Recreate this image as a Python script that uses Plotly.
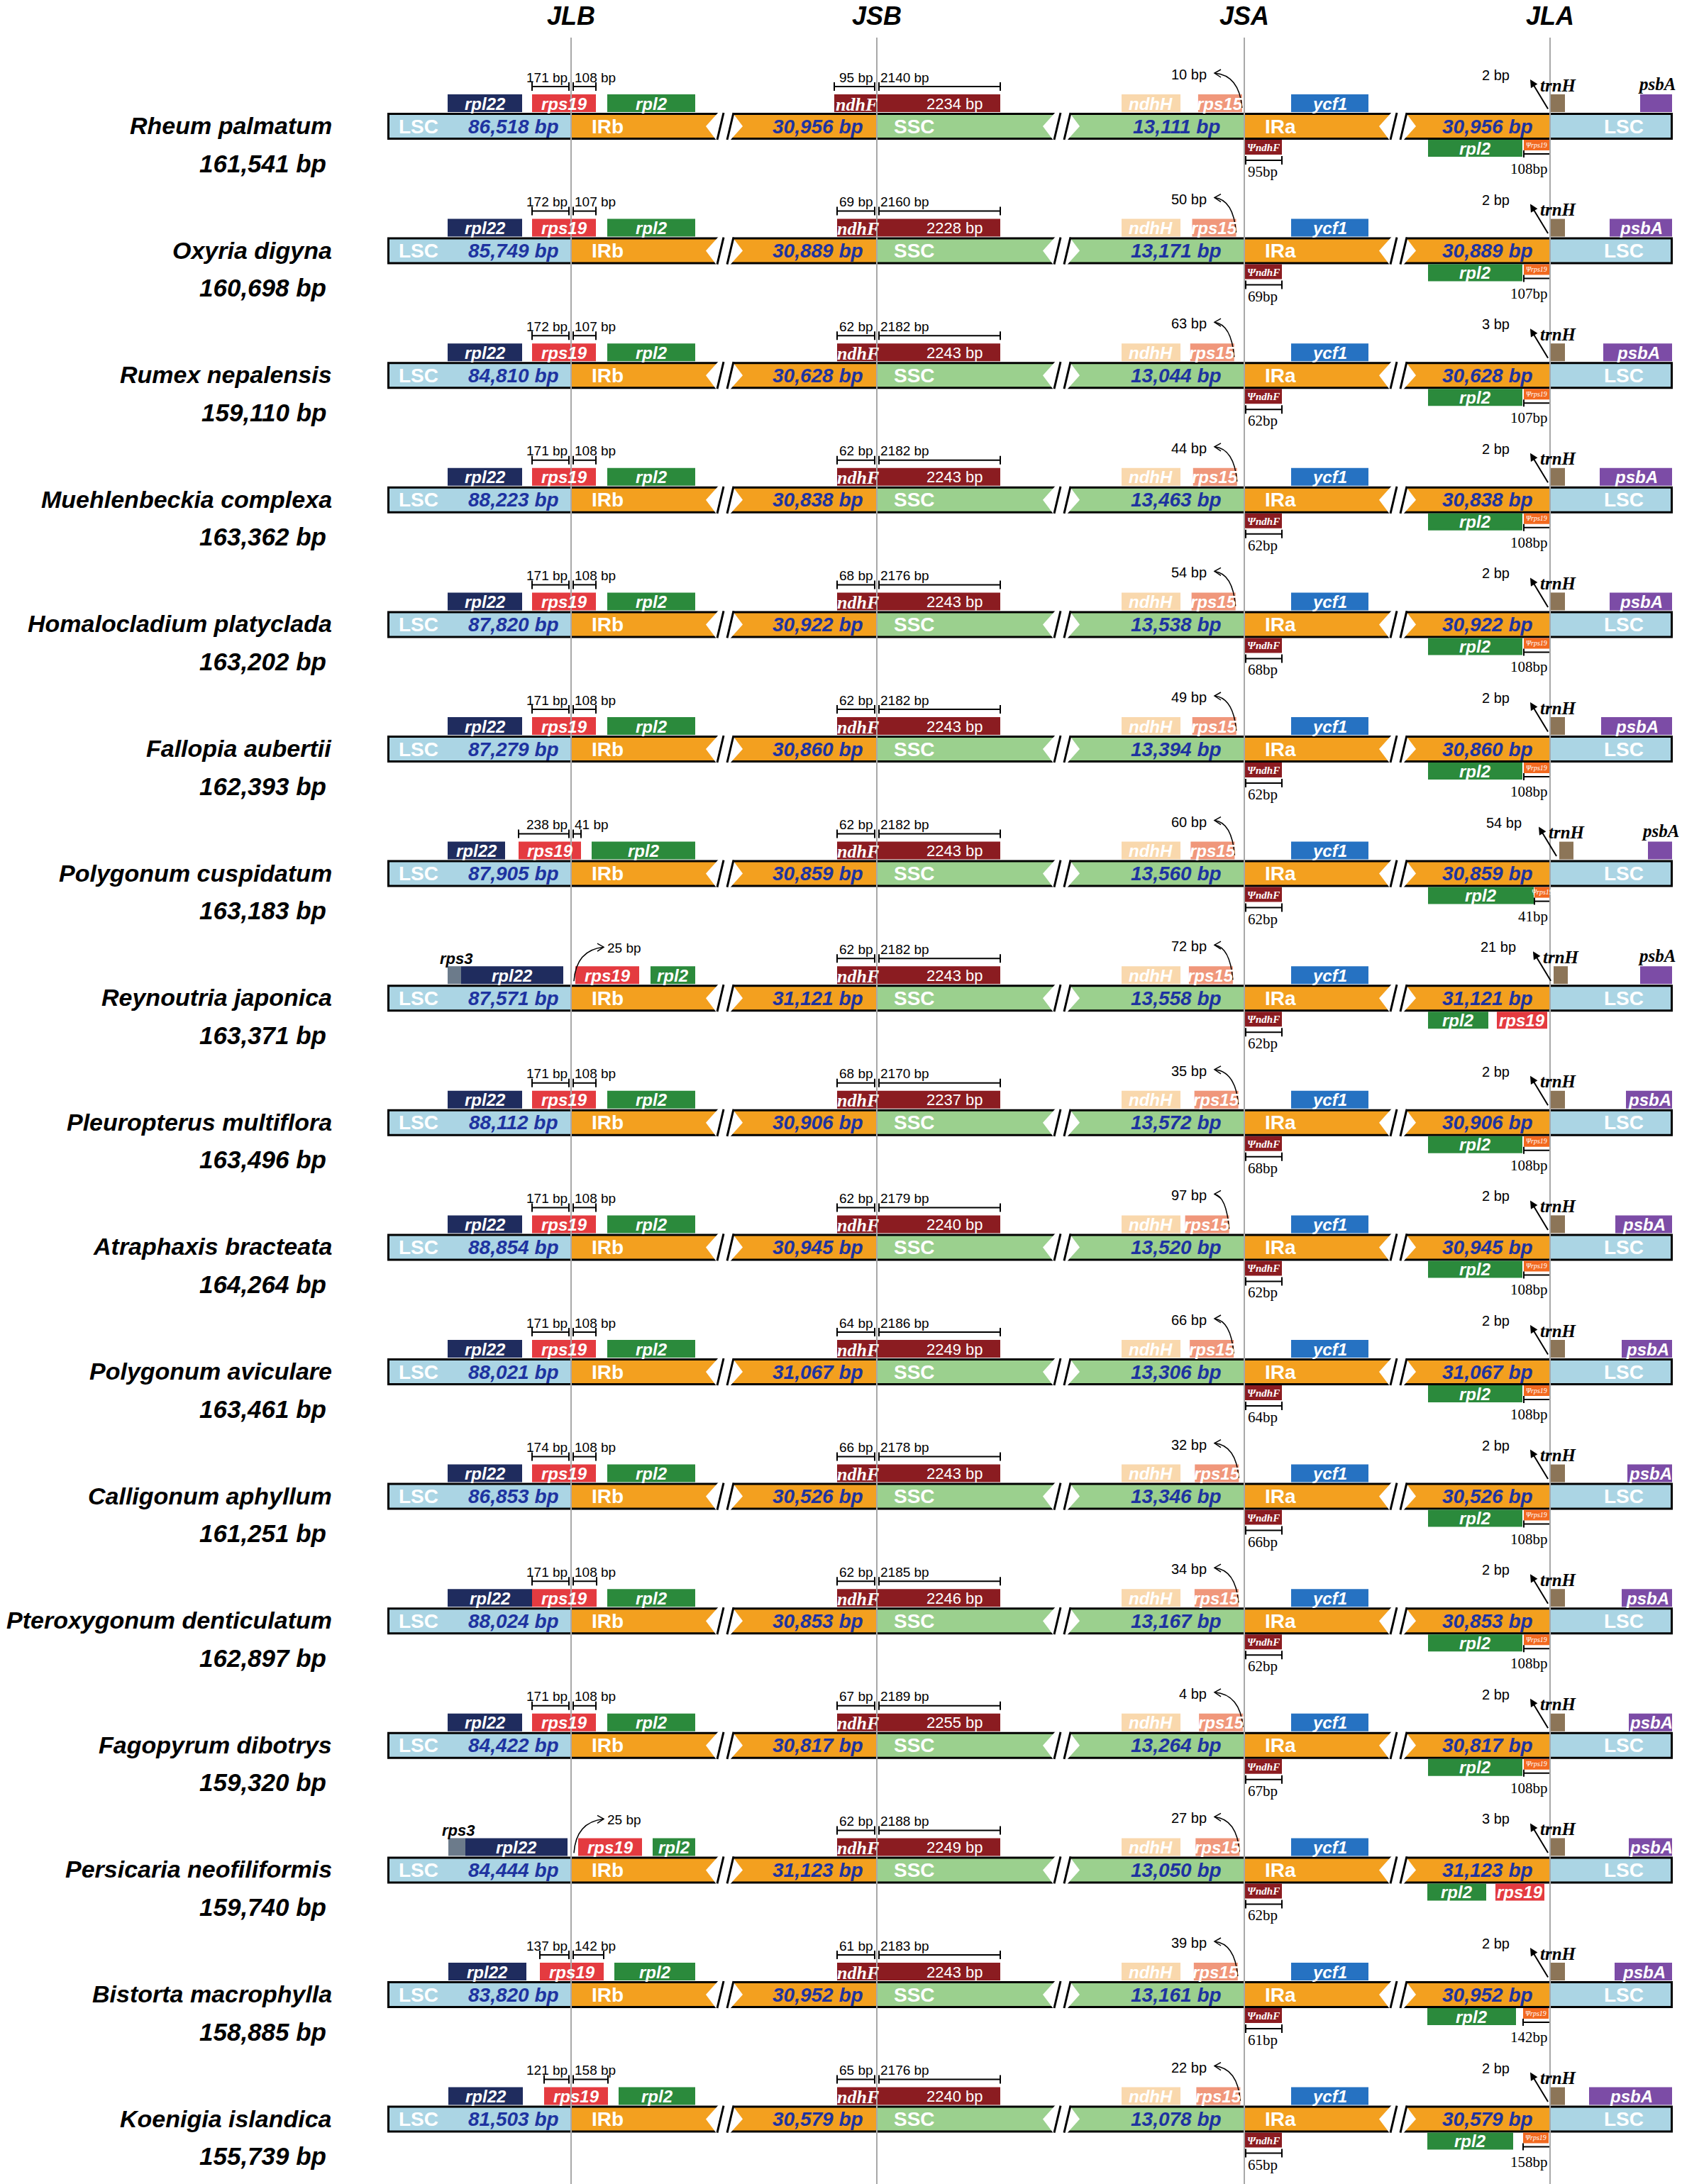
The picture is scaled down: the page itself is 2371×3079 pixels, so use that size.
import plotly.graph_objects as go

W, H = 2371, 3079

### data ###

species = ["Rheum palmatum", "Oxyria digyna", "Rumex nepalensis", "Muehlenbeckia complexa",
           "Homalocladium platyclada", "Fallopia aubertii", "Polygonum cuspidatum", "Reynoutria japonica",
           "Pleuropterus multiflora", "Atraphaxis bracteata", "Polygonum aviculare", "Calligonum aphyllum",
           "Pteroxygonum denticulatum", "Fagopyrum dibotrys", "Persicaria neofiliformis",
           "Bistorta macrophylla", "Koenigia islandica"]
genome_bp = [161541, 160698, 159110, 163362, 163202, 162393, 163183, 163371, 163496,
             164264, 163461, 161251, 162897, 159320, 159740, 158885, 155739]
lsc_bp = [86518, 85749, 84810, 88223, 87820, 87279, 87905, 87571, 88112,
          88854, 88021, 86853, 88024, 84422, 84444, 83820, 81503]
ir_bp = [30956, 30889, 30628, 30838, 30922, 30860, 30859, 31121, 30906,
         30945, 31067, 30526, 30853, 30817, 31123, 30952, 30579]
ssc_bp = [13111, 13171, 13044, 13463, 13538, 13394, 13560, 13558, 13572,
          13520, 13306, 13346, 13167, 13264, 13050, 13161, 13078]

# rps19 split at JLB (LSC side / IRb side), or gap to rps19 when it sits fully in IRb / LSC
jlb_lsc_bp = [171, 172, 172, 171, 171, 171, 238, None, 171, 171, 171, 174, 171, 171, None, 137, 121]
jlb_ir_bp = [108, 107, 107, 108, 108, 108, 41, None, 108, 108, 108, 108, 108, 108, None, 142, 158]
jlb_gap_bp = [None, None, None, None, None, None, None, 25, None, None, None, None, None, None, 25, None, None]

# ndhF at JSB
jsb_ir_bp = [95, 69, 62, 62, 68, 62, 62, 62, 68, 62, 64, 66, 62, 67, 62, 61, 65]
jsb_ssc_bp = [2140, 2160, 2182, 2182, 2176, 2182, 2182, 2182, 2170, 2179, 2186, 2178, 2185, 2189, 2188, 2183, 2176]
ndhf_bp = [2234, 2228, 2243, 2243, 2243, 2243, 2243, 2243, 2237, 2240, 2249, 2243, 2246, 2255, 2249, 2243, 2240]

# rps15 to JSA, trnH to JLA
jsa_bp = [10, 50, 63, 44, 54, 49, 60, 72, 35, 97, 66, 32, 34, 4, 27, 39, 22]
jla_bp = [2, 2, 3, 2, 2, 2, 54, 21, 2, 2, 2, 2, 2, 2, 3, 2, 2]

headers = ["JLB", "JSB", "JSA", "JLA"]

### layout (pixels) ###

ROW0, PITCH = 178, 175.6
BAR_L, BAR_R = 546, 2358
JLB, JSB, JSA, JLA = 805, 1236, 1754, 2185
BREAKS = [1021, 1496, 1970]

SANS = "Liberation Sans, Arial, sans-serif"
SERIF = "Liberation Serif, Times New Roman, serif"

col = dict(lsc="#abd5e4", ir="#f3a01f", ssc="#9bd08e", rpl22="#1f2c5e", rps19="#e43b40",
           rpl2="#2b8a3c", ndhF="#8b1c21", ndhH="#f9d8ad", rps15="#f0977b", ycf1="#2672c2",
           trnH="#8c7558", psbA="#7c4ca6", psi="#f2691f", rps3="#6c7b8b", size="#1e33a0",
           vline="#a8a8a8")

# genes around JLB: (name, x0, x1)
jlb_default = [("rpl22", 631, 736), ("rps19", 750, 840), ("rpl2", 856, 980)]
jlb_genes = {
    6: [("rpl22", 631, 712), ("rps19", 731, 819), ("rpl2", 834, 980)],
    7: [("rps3", 631, 650), ("rpl22", 650, 794), ("rps19", 811, 901), ("rpl2", 917, 980)],
    12: [("rpl22", 631, 750), ("rps19", 750, 841), ("rpl2", 856, 980)],
    14: [("rps3", 632, 656), ("rpl22", 656, 800), ("rps19", 815, 905), ("rpl2", 920, 980)],
    15: [("rpl22", 632, 742), ("rps19", 761, 851), ("rpl2", 866, 980)],
    16: [("rpl22", 632, 737), ("rps19", 767, 857), ("rpl2", 872, 980)],
}
# genes below IRa near JLA
jla_default = [("rpl2", 2013, 2146), ("psi", 2148, 2184)]
jla_genes = {
    6: [("rpl2", 2013, 2162), ("psi", 2163, 2184)],
    7: [("rpl2", 2013, 2098), ("rps19", 2110, 2181)],
    14: [("rpl2", 2012, 2095), ("rps19", 2108, 2177)],
    15: [("rpl2", 2012, 2137), ("psi", 2147, 2183)],
    16: [("rpl2", 2012, 2133), ("psi", 2147, 2183)],
}
psba_x0 = [2312, 2269, 2260, 2255, 2269, 2257, 2323, 2312, 2292, 2277, 2286, 2294, 2286, 2296, 2296, 2276, 2240]
trnh_x0 = {6: 2198, 7: 2190}
ndhf_x0 = {0: 1176}

shapes, notes = [], []


def box(x0, x1, y0, y1, color):
    shapes.append(dict(type="rect", xref="x", yref="y", x0=x0, x1=x1, y0=y0, y1=y1,
                       fillcolor=color, line=dict(width=0)))


def seg(x0, y0, x1, y1, color="black", w=2):
    shapes.append(dict(type="line", xref="x", yref="y", x0=x0, y0=y0, x1=x1, y1=y1,
                       line=dict(color=color, width=w)))


def path(d, color="black", w=2, fill="rgba(0,0,0,0)"):
    shapes.append(dict(type="path", xref="x", yref="y", path=d, fillcolor=fill,
                       line=dict(color=color, width=w)))


def label(x, y, txt, size, color="black", font=SANS, anchor="center"):
    notes.append(dict(x=x, y=y, xref="x", yref="y", text=txt, showarrow=False,
                      xanchor=anchor, yanchor="middle",
                      font=dict(family=font, size=size, color=color)))


def bi(t):
    return "<b><i>" + t + "</i></b>"


def bracket(x0, x1, y, h=6):
    seg(x0, y, x1, y, w=2)
    seg(x0, y - h, x0, y + h, w=2)
    seg(x1, y - h, x1, y + h, w=2)


def brk(xc, c):
    t, b = c - 20, c + 20
    path(f"M {xc-26},{c} L {xc-8},{t} L {xc+11},{t} L {xc+26},{c} L {xc+8},{b} L {xc-11},{b} Z",
         w=0, fill="white")
    seg(xc - 1, t + 1, xc - 10, b - 1, w=3)
    seg(xc + 13, t + 1, xc + 4, b - 1, w=3)


for i, name in enumerate(species):
    c = ROW0 + i * PITCH
    top, bot = c - 19, c + 19
    gt, gb = c - 45, c - 20     # gene boxes above the bar
    ut = c + 19                 # gene boxes below the bar

    # main bar with black frame
    box(BAR_L, BAR_R, top, bot, "black")
    it, ib = top + 3, bot - 3
    box(BAR_L + 3, JLB, it, ib, col["lsc"])
    box(JLB, JSB, it, ib, col["ir"])
    box(JSB, JSA, it, ib, col["ssc"])
    box(JSA, JLA, it, ib, col["ir"])
    box(JLA, BAR_R - 3, it, ib, col["lsc"])
    for xc in BREAKS:
        brk(xc, c)

    label(590, c, "<b>LSC</b>", 28, "white")
    label(724, c, bi(f"{lsc_bp[i]:,} bp"), 28, col["size"])
    label(856, c, "<b>IRb</b>", 28, "white")
    label(1153, c, bi(f"{ir_bp[i]:,} bp"), 28, col["size"])
    label(1289, c, "<b>SSC</b>", 28, "white")
    label(1658, c, bi(f"{ssc_bp[i]:,} bp"), 28, col["size"])
    label(1805, c, "<b>IRa</b>", 28, "white")
    label(2097, c, bi(f"{ir_bp[i]:,} bp"), 28, col["size"])
    label(2289, c, "<b>LSC</b>", 28, "white")

    # species name and genome size
    label(470, c - 1, bi(name), 34, anchor="right")
    label(462, c + 52, bi(f"{genome_bp[i]:,} bp"), 35, anchor="right")

    # JLB genes
    genes = jlb_genes.get(i, jlb_default)
    for g, x0, x1 in genes:
        box(x0, x1, gt, gb, col[g])
        if g == "rps3":
            label((x0 + x1) / 2 + 2, c - 56, bi("rps3"), 22)
        else:
            label((x0 + x1) / 2, c - 32, bi(g), 24, "white")
    r19 = [g for g in genes if g[0] == "rps19"][0]
    if jlb_lsc_bp[i] is not None:
        bracket(r19[1], JLB - 3, c - 56)
        bracket(JLB + 3, r19[2], c - 56)
        label(JLB - 3, c - 69, f"{jlb_lsc_bp[i]} bp", 19, anchor="right")
        label(JLB + 3, c - 69, f"{jlb_ir_bp[i]} bp", 19, anchor="left")
    elif r19[1] > JLB:
        # rps19 starts inside IRb, arrow to the right
        path(f"M {JLB+4},{c-24} Q {JLB+7},{c-68} {JLB+46},{c-72}", w=1.5)
        path(f"M {JLB+37},{c-77} L {JLB+46},{c-72} L {JLB+37},{c-66}", w=1.5)
        label(JLB + 49, c - 71, f"{jlb_gap_bp[i]} bp", 19, anchor="left")
    else:
        # rpl22 ends in LSC, arrow to the left
        path(f"M {JLB-3},{c-22} Q {JLB-8},{c-68} {JLB-45},{c-72}", w=1.5)
        path(f"M {JLB-36},{c-77} L {JLB-45},{c-72} L {JLB-36},{c-66}", w=1.5)
        label(JLB - 48, c - 71, f"{jlb_gap_bp[i]} bp", 19, anchor="right")

    # ndhF across JSB
    nx0 = ndhf_x0.get(i, 1180)
    box(nx0, 1410, gt, gb, col["ndhF"])
    label((nx0 + JSB) / 2 + 1, c - 31, bi("ndhF"), 26, "white", SERIF)
    label(1346, c - 32, f"{ndhf_bp[i]} bp", 22, "white")
    bracket(nx0, JSB - 3, c - 56)
    bracket(JSB + 3, 1410, c - 56)
    label(JSB - 3, c - 69, f"{jsb_ir_bp[i]} bp", 19, anchor="right")
    label(JSB + 3, c - 69, f"{jsb_ssc_bp[i]} bp", 19, anchor="left")

    # SSC genes near JSA
    box(1581, 1664, gt, gb, col["ndhH"])
    label(1622, c - 32, bi("ndhH"), 24, "white")
    rx1 = JSA - 1 - 0.21 * jsa_bp[i]
    box(rx1 - 62, rx1, gt, gb, col["rps15"])
    label(rx1 - 31, c - 32, bi("rps15"), 24, "white")
    path(f"M {rx1},{c-26} Q {rx1-4},{c-72} 1712,{c-75}", w=1.5)
    path(f"M 1721,{c-80} L 1712,{c-75} L 1721,{c-69}", w=1.5)
    label(1703, c - 73, f"{jsa_bp[i]} bp", 20, anchor="right")

    box(1820, 1929, gt, gb, col["ycf1"])
    label(1874, c - 32, bi("ycf1"), 24, "white")

    # pseudo ndhF below IRa
    box(JSA + 1, 1807, ut, c + 40, col["ndhF"])
    label(1781, c + 30, bi("ΨndhF"), 15, "white", SERIF)
    bracket(JSA + 2, 1807, c + 48)
    label(1757, c + 64, f"{jsb_ir_bp[i]}bp", 21, font=SERIF, anchor="left")

    # genes below IRa near JLA
    for g, x0, x1 in jla_genes.get(i, jla_default):
        if g == "psi":
            box(x0, x1, ut, c + 34, col["psi"])
            label((x0 + x1) / 2, c + 26, "<i>Ψrps19</i>", 10, "white", SERIF)
            bracket(x0, JLA, c + 39, 5)
            label(JLA - 1, c + 60, f"{jlb_ir_bp[i]}bp", 21, font=SERIF, anchor="right")
        else:
            box(x0, x1, ut, c + 43, col[g])
            label((x0 + x1) / 2, c + 31, bi(g), 24, "white")

    # trnH and psbA in LSC
    tx0 = trnh_x0.get(i, 2186)
    box(tx0, tx0 + 20, gt, gb, col["trnH"])
    label(tx0 + 11, c - 58, bi("trnH"), 25, font=SERIF)
    notes.append(dict(x=tx0 - 29, y=c - 66, ax=tx0 - 3, ay=c - 23, xref="x", yref="y",
                      axref="x", ayref="y", text="", showarrow=True, arrowhead=2,
                      arrowsize=1.1, arrowwidth=2, arrowcolor="black"))
    label(tx0 - 78, c - 72, f"{jla_bp[i]} bp", 20)

    px0 = psba_x0[i]
    box(px0, BAR_R - 1, gt, gb, col["psbA"])
    if BAR_R - px0 > 60:
        label((px0 + BAR_R) / 2, c - 32, bi("psbA"), 24, "white")
    else:
        label((px0 + BAR_R) / 2, c - 60, bi("psbA"), 25, font=SERIF)

# junction lines and headers
for h, x in zip(headers, [JLB, JSB, JSA, JLA]):
    seg(x, 53, x, H, col["vline"], 2)
    label(x, 22, bi(h), 36)

fig = go.Figure()
fig.update_layout(
    width=W, height=H,
    margin=dict(l=0, r=0, t=0, b=0),
    paper_bgcolor="white", plot_bgcolor="white",
    xaxis=dict(range=[0, W], visible=False, fixedrange=True),
    yaxis=dict(range=[H, 0], visible=False, fixedrange=True),
    shapes=shapes, annotations=notes, showlegend=False,
)
fig.write_html("out.html", config={"displayModeBar": False},
               post_script="document.body.style.margin='0';")
